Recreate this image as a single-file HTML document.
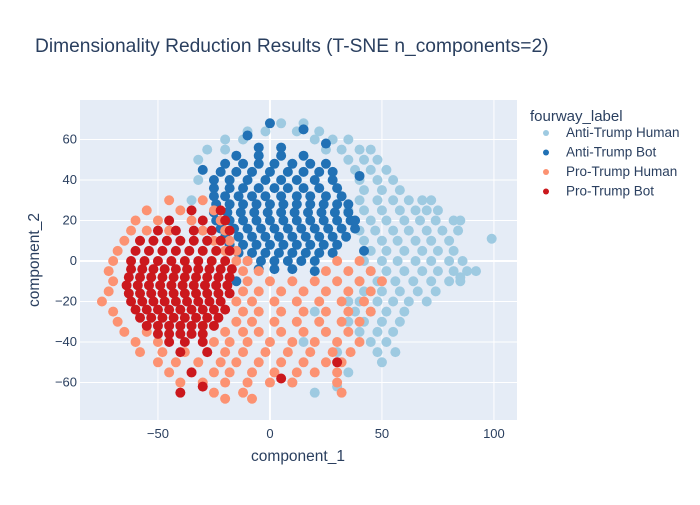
<!DOCTYPE html>
<html><head><meta charset="utf-8"><style>
body{margin:0;background:#fff;font-family:"Liberation Sans",sans-serif;}
svg text{font-family:"Liberation Sans",sans-serif;fill:#2a3f5f;}
</style></head><body>
<svg id="chart" width="700" height="500" xmlns="http://www.w3.org/2000/svg">
<rect width="700" height="500" fill="#fff"/>
<text x="35" y="52" font-size="19.2">Dimensionality Reduction Results (T-SNE n_components=2)</text>
<rect x="80" y="100" width="437" height="320" fill="#e5ecf6"/>
<g id="grid"></g>
<g id="marks"></g>
<g id="ticks"></g>
<text x="298" y="461" font-size="15.5" text-anchor="middle">component_1</text>
<text x="0" y="0" font-size="15.5" text-anchor="middle" transform="translate(39,260) rotate(-90)">component_2</text>
<g id="legend">
<text x="530" y="121" font-size="15">fourway_label</text>
</g>
</svg>
<script>
const xTicks=[-50,0,50,100];
const yTicks=[-60,-40,-20,0,20,40,60];
const seriesNames=["Anti-Trump Human","Anti-Trump Bot","Pro-Trump Human","Pro-Trump Bot"];
const seriesColors=["#9ecae1","#2171b5","#fc9272","#cb181d"];
const antiHuman=[[40,30],[48,30],[55,30],[62,30],[68,30],[72,30],[35,25],[42,25],[50,25],[58,25],[65,25],[70,25],[75,25],[38,20],[45,20],[52,20],[60,20],[67,20],[74,20],[82,20],[85,20],[40,15],[47,15],[55,15],[62,15],[70,15],[77,15],[84,15],[42,10],[50,10],[57,10],[65,10],[72,10],[80,10],[45,5],[52,5],[60,5],[68,5],[75,5],[82,5],[42,0],[50,0],[57,0],[65,0],[72,0],[80,0],[86,0],[45,-5],[52,-5],[60,-5],[68,-5],[75,-5],[82,-5],[88,-5],[40,-10],[48,-10],[56,-10],[64,-10],[72,-10],[80,-10],[85,-10],[42,-15],[50,-15],[58,-15],[66,-15],[74,-15],[40,-20],[48,-20],[55,-20],[62,-20],[70,-20],[38,-25],[45,-25],[52,-25],[60,-25],[35,-30],[42,-30],[50,-30],[58,-30],[40,-35],[48,-35],[55,-35],[45,-40],[52,-40],[48,-45],[56,-45],[50,-50],[5,68],[15,68],[-10,64],[-2,64],[12,64],[22,64],[-20,60],[-12,60],[20,60],[28,60],[35,60],[-28,55],[-20,55],[25,55],[32,55],[40,55],[45,55],[-32,50],[35,50],[42,50],[48,50],[38,45],[45,45],[52,45],[40,40],[48,40],[55,40],[42,35],[50,35],[58,35],[-32,40],[-35,30],[99,11],[92,-5],[85,-8],[10,-60],[30,-62],[35,-55],[20,-65],[15,-40],[25,-35],[30,-45],[20,-25],[35,-20]];
const antiBot=[[-5,56],[5,56],[-15,52],[-5,52],[5,52],[15,52],[-20,48],[-12,48],[-5,48],[2,48],[10,48],[18,48],[25,48],[-22,44],[-15,44],[-8,44],[0,44],[8,44],[15,44],[22,44],[28,44],[-25,40],[-18,40],[-10,40],[-2,40],[5,40],[12,40],[20,40],[28,40],[-25,36],[-18,36],[-12,36],[-5,36],[2,36],[8,36],[15,36],[22,36],[30,36],[-25,32],[-20,32],[-14,32],[-8,32],[-2,32],[5,32],[12,32],[18,32],[25,32],[32,32],[-24,28],[-18,28],[-12,28],[-6,28],[0,28],[6,28],[12,28],[18,28],[24,28],[30,28],[35,28],[-25,24],[-19,24],[-13,24],[-7,24],[-1,24],[5,24],[11,24],[17,24],[23,24],[29,24],[35,24],[-24,20],[-18,20],[-12,20],[-6,20],[0,20],[6,20],[12,20],[18,20],[24,20],[30,20],[36,20],[-22,16],[-16,16],[-10,16],[-4,16],[2,16],[8,16],[14,16],[20,16],[26,16],[32,16],[38,16],[-20,12],[-14,12],[-8,12],[-2,12],[4,12],[10,12],[16,12],[22,12],[28,12],[34,12],[-18,8],[-12,8],[-6,8],[0,8],[6,8],[12,8],[18,8],[24,8],[30,8],[-14,4],[-8,4],[-2,4],[4,4],[10,4],[16,4],[22,4],[28,4],[-10,0],[-4,0],[2,0],[8,0],[14,0],[20,0],[-5,-4],[2,-4],[10,-4],[0,68],[15,65],[-10,62],[25,58],[-30,45],[40,42],[38,20],[42,5],[-28,10],[-15,-10],[20,-5]];
const proHuman=[[-45,30],[-30,30],[-55,25],[-40,25],[-25,25],[-60,20],[-50,20],[-35,20],[-22,20],[-62,15],[-55,15],[-45,15],[-30,15],[-20,15],[-65,10],[-58,10],[-25,10],[-18,10],[-68,5],[-20,5],[-15,5],[-70,0],[-15,0],[-10,0],[30,0],[40,0],[-72,-5],[-12,-5],[-5,-5],[25,-5],[35,-5],[45,-5],[-70,-10],[-10,-10],[0,-10],[10,-10],[20,-10],[30,-10],[40,-10],[50,-10],[-72,-15],[-12,-15],[-5,-15],[5,-15],[15,-15],[25,-15],[35,-15],[45,-15],[-75,-20],[-15,-20],[-8,-20],[2,-20],[12,-20],[22,-20],[32,-20],[42,-20],[-70,-25],[-12,-25],[-5,-25],[5,-25],[15,-25],[25,-25],[35,-25],[45,-25],[-68,-30],[-15,-30],[-8,-30],[2,-30],[12,-30],[22,-30],[32,-30],[40,-30],[-65,-35],[-55,-35],[-20,-35],[-12,-35],[-5,-35],[5,-35],[15,-35],[25,-35],[35,-35],[-60,-40],[-50,-40],[-25,-40],[-18,-40],[-10,-40],[0,-40],[10,-40],[20,-40],[30,-40],[40,-40],[-58,-45],[-48,-45],[-38,-45],[-28,-45],[-20,-45],[-12,-45],[-2,-45],[8,-45],[18,-45],[28,-45],[36,-45],[-50,-50],[-42,-50],[-32,-50],[-22,-50],[-15,-50],[-5,-50],[5,-50],[15,-50],[25,-50],[32,-50],[-45,-55],[-35,-55],[-25,-55],[-18,-55],[-8,-55],[2,-55],[12,-55],[20,-55],[30,-55],[-40,-60],[-30,-60],[-20,-60],[-10,-60],[0,-60],[10,-60],[30,-60],[-25,-65],[-12,-65],[32,-65],[-20,-68],[-8,-68]];
const proBot=[[-35,25],[-22,25],[-45,20],[-30,20],[-20,20],[-50,15],[-42,15],[-34,15],[-26,15],[-18,15],[-58,10],[-52,10],[-46,10],[-40,10],[-34,10],[-28,10],[-22,10],[-60,5],[-54,5],[-48,5],[-42,5],[-36,5],[-30,5],[-24,5],[-18,5],[-62,0],[-56,0],[-50,0],[-44,0],[-38,0],[-32,0],[-26,0],[-20,0],[-62,-4],[-57,-4],[-52,-4],[-47,-4],[-42,-4],[-37,-4],[-32,-4],[-27,-4],[-22,-4],[-17,-4],[-63,-8],[-58,-8],[-53,-8],[-48,-8],[-43,-8],[-38,-8],[-33,-8],[-28,-8],[-23,-8],[-18,-8],[-64,-12],[-59,-12],[-54,-12],[-49,-12],[-44,-12],[-39,-12],[-34,-12],[-29,-12],[-24,-12],[-19,-12],[-63,-16],[-58,-16],[-53,-16],[-48,-16],[-43,-16],[-38,-16],[-33,-16],[-28,-16],[-23,-16],[-18,-16],[-62,-20],[-57,-20],[-52,-20],[-47,-20],[-42,-20],[-37,-20],[-32,-20],[-27,-20],[-22,-20],[-60,-24],[-55,-24],[-50,-24],[-45,-24],[-40,-24],[-35,-24],[-30,-24],[-25,-24],[-20,-24],[-58,-28],[-53,-28],[-48,-28],[-43,-28],[-38,-28],[-33,-28],[-28,-28],[-23,-28],[-55,-32],[-50,-32],[-45,-32],[-40,-32],[-35,-32],[-30,-32],[-25,-32],[-50,-36],[-45,-36],[-40,-36],[-35,-36],[-30,-36],[-45,-40],[-38,-40],[-30,-40],[-40,-45],[-28,-45],[-35,-55],[5,-58],[-30,-62],[-40,-65],[30,-50]];
const allSeries=[antiHuman,antiBot,proHuman,proBot];

const X0=80,X1=517,Y0=100,Y1=420,xmin=-84.8,xmax=110.3,ymin=-78.5,ymax=79.5;
const sx=v=>X0+(v-xmin)/(xmax-xmin)*(X1-X0);
const sy=v=>Y1-(v-ymin)/(ymax-ymin)*(Y1-Y0);
const NS="http://www.w3.org/2000/svg";
function mk(tag,attrs,parent){const e=document.createElementNS(NS,tag);for(const k in attrs)e.setAttribute(k,attrs[k]);parent.appendChild(e);return e;}
const grid=document.getElementById('grid'),ticks=document.getElementById('ticks'),marks=document.getElementById('marks'),legend=document.getElementById('legend');
xTicks.forEach(t=>{
  const l=mk('line',{x1:sx(t),x2:sx(t),y1:Y0,y2:Y1,stroke:'#fff','stroke-width':t===0?2:1},grid);
  
  
  const tx=mk('text',{x:sx(t),y:Y1+18,'font-size':13,'text-anchor':'middle'},ticks);
  tx.textContent=t<0?'\u2212'+(-t):String(t);
  
  
});
yTicks.forEach(t=>{
  const l=mk('line',{x1:X0,x2:X1,y1:sy(t),y2:sy(t),stroke:'#fff','stroke-width':t===0?2:1},grid);
  
  
  const tx=mk('text',{x:X0-3,y:sy(t)+4,'font-size':13,'text-anchor':'end'},ticks);
  tx.textContent=t<0?'\u2212'+(-t):String(t);
  
  
});
allSeries.forEach((pts,i)=>{
  const g=mk('g',{},marks);
  
  
  pts.forEach(p=>{
    const c=mk('circle',{cx:sx(p[0]),cy:sy(p[1]),r:5,fill:seriesColors[i]},g);
    
    
  });
  const ly=137+i*19.5;
  const lg=mk('g',{},legend);
  
  
  mk('circle',{cx:546,cy:ly-4,r:3,fill:seriesColors[i]},lg);
  const lt=mk('text',{x:566,y:ly,'font-size':13.5},lg);
  lt.textContent=seriesNames[i];
});
</script>
</body></html>
